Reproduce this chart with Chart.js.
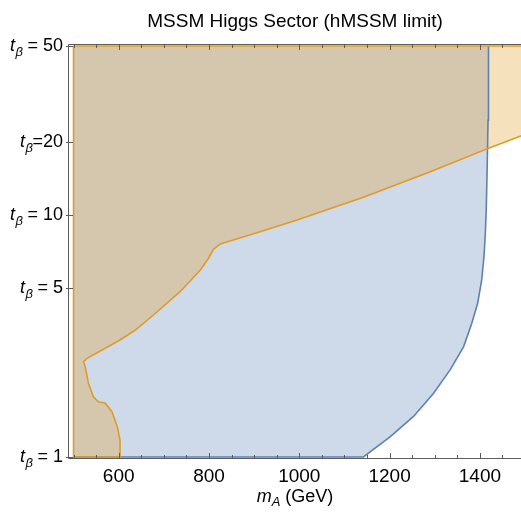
<!DOCTYPE html>
<html>
<head>
<meta charset="utf-8">
<script src="https://cdn.jsdelivr.net/npm/chart.js@4.4.1/dist/chart.umd.min.js"></script>
<style>
  html, body { margin: 0; padding: 0; background: #fff; }
  #chart { display: block; }
</style>
</head>
<body>
<canvas id="chart" width="521" height="512"></canvas>
<script>
// region boundaries (m_A in GeV, tan beta)
const blueMA = [500, 1142, 1201, 1253, 1297, 1334, 1364, 1382, 1395, 1404, 1409, 1412, 1414, 1416, 1418, 1419, 500, 500];
const blueTB = [1, 1, 1.21, 1.47, 1.83, 2.29, 2.86, 3.57, 4.32, 5.39, 6.73, 8.41, 10.5, 15.4, 24.7, 50, 50, 1];

const orangeMA = [500, 500, 604, 603, 597, 585, 570, 555, 544, 533, 526, 522, 530, 603, 637, 677, 736, 781, 799, 810, 825, 854, 913, 995, 1142, 1290, 1419, 1489, 1500, 1500, 500];
const orangeTB = [50, 1, 1, 1.175, 1.334, 1.539, 1.671, 1.692, 1.774, 2.016, 2.361, 2.477, 2.558, 3.045, 3.349, 3.863, 4.822, 5.93, 6.63, 7.22, 7.595, 7.89, 8.54, 9.55, 11.85, 15.12, 18.89, 21.2, 21.6, 50, 50];

// axis ticks
const xTickValues = [500, 550, 600, 650, 700, 750, 800, 850, 900, 950, 1000, 1050, 1100, 1150, 1200, 1250, 1300, 1350, 1400, 1450];
const xTickLabels = ['600', '800', '1000', '1200', '1400'];
const yTickValues = [1, 5, 10, 20, 50];
const yTickText = [' = 1', ' = 5', ' = 10', '=20', ' = 50'];

const FONT = '"Liberation Sans", Arial, sans-serif';
const frameColor = '#5c5c5c';

function toPoints(xs, ys) {
    return xs.map((x, i) => ({ x: x, y: ys[i] }));
}

function isLabelled(v) {
    return xTickLabels.includes(String(v));
}

// blue edges that lie under the orange border are not stroked
function hiddenBlueEdge(c) {
    const a = c.p0.parsed, b = c.p1.parsed;
    if (a.x === b.x && a.x === blueMA[0]) return 'rgba(0,0,0,0)';
    if (a.y === b.y && a.y === blueTB[blueTB.length - 2]) return 'rgba(0,0,0,0)';
    return undefined;
}

// frame, inward ticks and the subscripted labels
const decorations = {
    id: 'decorations',
    afterDatasetsDraw(chart) {
        const ctx = chart.ctx;
        const area = chart.chartArea;
        const xs = chart.scales.x;
        const ys = chart.scales.y;
        ctx.save();
        ctx.strokeStyle = frameColor;
        ctx.lineWidth = 1;
        ctx.beginPath();
        ctx.moveTo(area.right, area.top - 0.5);
        ctx.lineTo(area.left - 0.5, area.top - 0.5);
        ctx.lineTo(area.left - 0.5, area.bottom + 0.5);
        ctx.lineTo(area.right, area.bottom + 0.5);
        ctx.stroke();

        ctx.beginPath();
        xs.ticks.forEach(t => {
            const px = Math.round(xs.getPixelForValue(t.value)) + 0.5;
            const len = isLabelled(t.value) ? 5 : 3;
            ctx.moveTo(px, area.bottom);
            ctx.lineTo(px, area.bottom - len);
            ctx.moveTo(px, area.top);
            ctx.lineTo(px, area.top + len);
        });
        yTickValues.forEach(v => {
            const py = Math.round(ys.getPixelForValue(v)) + 0.5;
            ctx.moveTo(area.left - 3, py);
            ctx.lineTo(area.left + 4, py);
        });
        ctx.stroke();
        ctx.restore();
    },
    afterDraw(chart) {
        const ctx = chart.ctx;
        const area = chart.chartArea;
        const ys = chart.scales.y;
        ctx.save();
        ctx.fillStyle = '#000';
        ctx.textBaseline = 'middle';
        ctx.textAlign = 'left';
        const right = area.left - 6;
        yTickValues.forEach((v, i) => {
            const py = ys.getPixelForValue(v);
            ctx.font = '18px ' + FONT;
            const w1 = ctx.measureText(yTickText[i]).width;
            ctx.font = 'italic 13px ' + FONT;
            const w2 = ctx.measureText('β').width;
            ctx.font = 'italic 18px ' + FONT;
            const w3 = ctx.measureText('t').width;
            let x = right - w1 - w2 - w3;
            ctx.fillText('t', x, py);
            ctx.font = 'italic 13px ' + FONT;
            ctx.fillText('β', x + w3 + 0.5, py + 6);
            ctx.font = '18px ' + FONT;
            ctx.fillText(yTickText[i], x + w3 + w2, py);
        });

        // x axis title: m_A (GeV)
        const cx = (area.left + area.right) / 2;
        const ty = 497;
        ctx.font = 'italic 18px ' + FONT;
        const wm = ctx.measureText('m').width;
        ctx.font = 'italic 13px ' + FONT;
        const wa = ctx.measureText('A').width;
        ctx.font = '18px ' + FONT;
        const wr = ctx.measureText(' (GeV)').width;
        let x0 = cx - (wm + wa + wr) / 2;
        ctx.font = 'italic 18px ' + FONT;
        ctx.fillText('m', x0, ty);
        ctx.font = 'italic 13px ' + FONT;
        ctx.fillText('A', x0 + wm, ty + 5);
        ctx.font = '18px ' + FONT;
        ctx.fillText(' (GeV)', x0 + wm + wa, ty);
        ctx.restore();
    }
};

const ctx = document.getElementById('chart').getContext('2d');
const chart = new Chart(ctx, {
    type: 'line',
    data: {
        datasets: [{
            label: 'orange',
            data: toPoints(orangeMA, orangeTB),
            borderColor: 'rgb(225,156,36)',
            backgroundColor: 'rgba(225,156,36,0.3)',
            borderWidth: 1.6,
            fill: 'shape',
            pointRadius: 0,
            tension: 0
        }, {
            label: 'blue',
            data: toPoints(blueMA, blueTB),
            borderColor: 'rgb(94,129,181)',
            backgroundColor: 'rgba(94,129,181,0.3)',
            borderWidth: 1.6,
            fill: 'shape',
            pointRadius: 0,
            tension: 0,
            segment: { borderColor: hiddenBlueEdge }
        }]
    },
    options: {
        responsive: false,
        animation: false,
        layout: { padding: 0 },
        plugins: {
            legend: { display: false },
            tooltip: { enabled: false },
            filler: { drawTime: 'beforeDatasetsDraw' },
            title: {
                display: true,
                text: 'MSSM Higgs Sector (hMSSM limit)',
                color: '#000',
                fullSize: false,
                font: { family: FONT, size: 19, weight: 'normal' },
                padding: { top: 10.6, bottom: 11.6 }
            }
        },
        scales: {
            x: {
                type: 'linear',
                min: 490,
                max: 1491,
                grid: { display: false, drawTicks: false },
                border: { display: false },
                afterBuildTicks: s => { s.ticks = xTickValues.map(v => ({ value: v })); },
                ticks: {
                    autoSkip: false,
                    maxRotation: 0,
                    padding: 7,
                    color: '#000',
                    font: { family: FONT, size: 19 },
                    callback: v => (isLabelled(v) ? String(v) : '')
                },
                afterFit: s => { s.height = 54; s.paddingLeft = 0; s.paddingRight = 0; }
            },
            y: {
                type: 'logarithmic',
                min: 0.99,
                max: 50.5,
                grid: { display: false, drawTicks: false },
                border: { display: false },
                ticks: { display: false },
                afterFit: s => { s.width = 69; }
            }
        }
    },
    plugins: [decorations]
});
</script>
</body>
</html>
